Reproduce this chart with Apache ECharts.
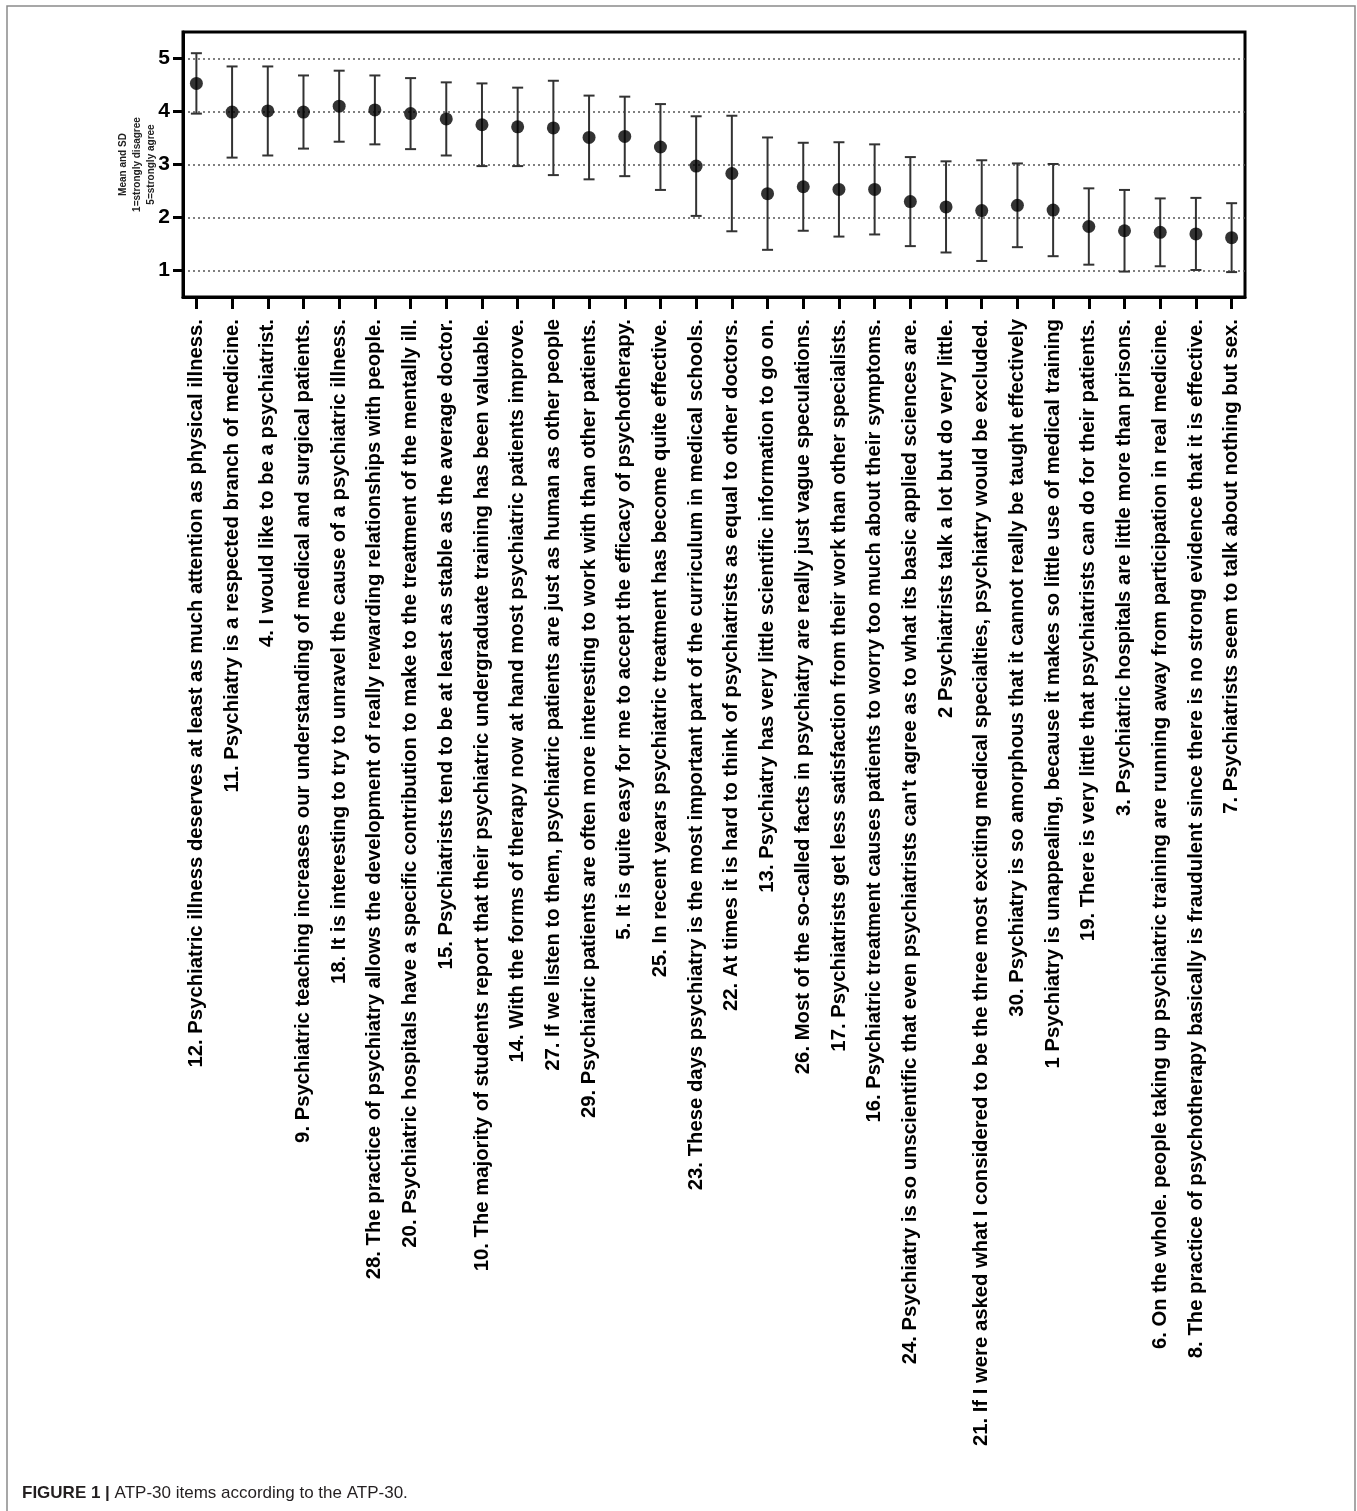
<!DOCTYPE html>
<html>
<head>
<meta charset="utf-8">
<script src="https://cdn.jsdelivr.net/npm/echarts@6/dist/echarts.min.js"></script>
<style>
html,body{margin:0;padding:0;background:#fff;}
#chart{width:1357px;height:1511px;}
</style>
</head>
<body>
<div id="chart"></div>
<script>
const categories = [
  "12. Psychiatric illness deserves at least as much attention as physical illness.",
  "11. Psychiatry is a respected branch of medicine.",
  "4. I would like to be a psychiatrist.",
  "9. Psychiatric teaching increases our understanding of medical and surgical patients.",
  "18. It is interesting to try to unravel the cause of a psychiatric illness.",
  "28. The practice of psychiatry allows the development of really rewarding relationships with people.",
  "20. Psychiatric hospitals have a specific contribution to make to the treatment of the mentally ill.",
  "15. Psychiatrists tend to be at least as stable as the average doctor.",
  "10. The majority of students report that their psychiatric undergraduate training has been valuable.",
  "14. With the forms of therapy now at hand most psychiatric patients improve.",
  "27. If we listen to them, psychiatric patients are just as human as other people",
  "29. Psychiatric patients are often more interesting to work with than other patients.",
  "5. It is quite easy for me to accept the efficacy of psychotherapy.",
  "25. In recent years psychiatric treatment has become quite effective.",
  "23. These days psychiatry is the most important part of the curriculum in medical schools.",
  "22. At times it is hard to think of psychiatrists as equal to other doctors.",
  "13. Psychiatry has very little scientific information to go on.",
  "26. Most of the so-called facts in psychiatry are really just vague speculations.",
  "17. Psychiatrists get less satisfaction from their work than other specialists.",
  "16. Psychiatric treatment causes patients to worry too much about their symptoms.",
  "24. Psychiatry is so unscientific that even psychiatrists can't agree as to what its basic applied sciences are.",
  "2 Psychiatrists talk a lot but do very little.",
  "21. If I were asked what I considered to be the three most exciting medical specialties, psychiatry would be excluded.",
  "30. Psychiatry is so amorphous that it cannot really be taught effectively",
  "1 Psychiatry is unappealing, because it makes so little use of medical training",
  "19. There is very little that psychiatrists can do for their patients.",
  "3. Psychiatric hospitals are little more than prisons.",
  "6. On the whole. people taking up psychiatric training are running away from participation in real medicine.",
  "8. The practice of psychotherapy basically is fraudulent since there is no strong evidence that it is effective.",
  "7. Psychiatrists seem to talk about nothing but sex."
];
const means = [4.53,3.99,4.01,3.99,4.10,4.03,3.96,3.86,3.75,3.71,3.69,3.51,3.53,3.33,2.97,2.83,2.45,2.58,2.53,2.53,2.30,2.20,2.13,2.23,2.14,1.83,1.75,1.72,1.69,1.62];
const sds   = [0.57,0.86,0.84,0.69,0.67,0.65,0.67,0.69,0.78,0.74,0.89,0.79,0.75,0.81,0.94,1.09,1.06,0.83,0.89,0.85,0.84,0.86,0.95,0.79,0.87,0.72,0.77,0.64,0.68,0.65];
const yTicks = [1,2,3,4,5];
const yName = "Mean and SD\n1=strongly disagree\n5=strongly agree";
const captionBold = "FIGURE 1 |";
const captionText = " ATP-30 items according to the ATP-30.";

const idx = categories.map((c,i)=>i);
const pointData = means.map((m,i)=>[i,m]);
const errData = means.map((m,i)=>[i, m - sds[i], m + sds[i]]);

const chart = echarts.init(document.getElementById('chart'), null, {renderer:'canvas'});
const FONT = "'Liberation Sans', Arial, Helvetica, sans-serif";

chart.setOption({
  animation:false,
  backgroundColor:'#fff',
  title:{
    left:17, top:1480,
    text:'{b|'+captionBold+'}{n|'+captionText+'}',
    textStyle:{
      rich:{
        b:{fontFamily:FONT, fontWeight:'bold', fontSize:17, color:'#231f20'},
        n:{fontFamily:FONT, fontWeight:'normal', fontSize:17, color:'#231f20'}
      }
    }
  },
  graphic:[{
    type:'rect', silent:true, z:-10,
    shape:{x:7, y:6, width:1348, height:1530},
    style:{fill:'none', stroke:'#8a8a8a', lineWidth:1.5}
  }],
  grid:{
    left:183, top:32, width:1062, height:265,
    show:true, borderColor:'#000', borderWidth:3, backgroundColor:'transparent'
  },
  xAxis:{
    type:'value', min:-0.375, max:29.375,
    axisLine:{show:true, onZero:false, lineStyle:{color:'#000', width:3}},
    axisTick:{show:true, length:12, inside:false, customValues:idx, lineStyle:{color:'#000', width:3}},
    splitLine:{show:false},
    axisLabel:{
      customValues:idx,
      rotate:90, margin:22,
      fontFamily:FONT, fontWeight:'bold', fontSize:20.3, color:'#000',
      formatter:function(v){ return categories[Math.round(v)] || ''; }
    }
  },
  yAxis:{
    type:'value', min:0.5, max:5.5,
    name:yName, nameLocation:'middle', nameRotate:90, nameGap:25, nameMoveOverlap:false,
    nameTextStyle:{fontFamily:FONT, fontWeight:'bold', fontSize:10, lineHeight:14, color:'#222', align:'center'},
    axisLine:{show:true, onZero:false, lineStyle:{color:'#000', width:3}},
    axisTick:{show:true, length:10, customValues:yTicks, lineStyle:{color:'#000', width:3}},
    axisLabel:{customValues:yTicks, margin:13, fontFamily:FONT, fontWeight:'bold', fontSize:21, color:'#000'},
    splitLine:{show:true, lineStyle:{color:'#555', width:1.5, type:[2,3]}}
  },
  series:[
    {
      type:'custom',
      data:errData,
      z:3,
      renderItem:function(params, api){
        const x = api.value(0);
        const lo = api.coord([x, api.value(1)]);
        const hi = api.coord([x, api.value(2)]);
        const hw = 5.5;
        const st = {stroke:'#333', lineWidth:2, fill:'none'};
        return {
          type:'group',
          children:[
            {type:'line', shape:{x1:lo[0], y1:lo[1], x2:hi[0], y2:hi[1]}, style:st},
            {type:'line', shape:{x1:lo[0]-hw, y1:lo[1], x2:lo[0]+hw, y2:lo[1]}, style:st},
            {type:'line', shape:{x1:hi[0]-hw, y1:hi[1], x2:hi[0]+hw, y2:hi[1]}, style:st}
          ]
        };
      }
    },
    {
      type:'scatter',
      data:pointData,
      symbol:'circle', symbolSize:13, z:4,
      itemStyle:{color:'#000'}
    }
  ]
});
</script>
</body>
</html>
